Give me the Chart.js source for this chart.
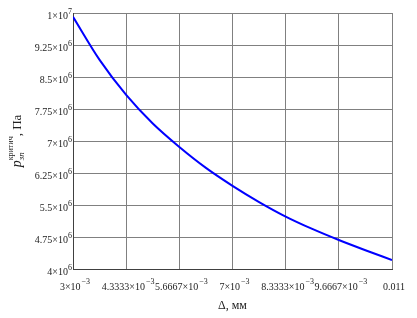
<!DOCTYPE html>
<html lang="ru">
<head>
<meta charset="UTF-8">
<title>p критич</title>
<script src="https://cdn.jsdelivr.net/npm/chart.js"></script>
<style>
  html, body { margin: 0; padding: 0; background: #fff; overflow: hidden; }
  canvas { display: block; }
</style>
</head>
<body>
<canvas id="chart" width="417" height="318"></canvas>
<script>
// зазор, мм
const deltaValues = [0.003, 0.0036667, 0.0043333, 0.005, 0.0056667, 0.0063333, 0.007,
                     0.0076667, 0.0083333, 0.009, 0.0096667, 0.0103333, 0.011];
// давление, Па
const pressureValues = [9.91e6, 8.90e6, 8.08e6, 7.41e6, 6.86e6, 6.37e6, 5.95e6,
                        5.57e6, 5.23e6, 4.94e6, 4.68e6, 4.44e6, 4.21e6];

const xTicks = [0.003, 0.0043333, 0.0056667, 0.007, 0.0083333, 0.0096667, 0.011];
const xTickLabels = [['3', '−3'], ['4.3333', '−3'], ['5.6667', '−3'], ['7', '−3'],
                     ['8.3333', '−3'], ['9.6667', '−3'], ['0.011', '']];
const yTicks = [1e7, 9.25e6, 8.5e6, 7.75e6, 7e6, 6.25e6, 5.5e6, 4.75e6, 4e6];
const yTickLabels = [['1', '7'], ['9.25', '6'], ['8.5', '6'], ['7.75', '6'], ['7', '6'],
                     ['6.25', '6'], ['5.5', '6'], ['4.75', '6'], ['4', '6']];

const FONT = '"Liberation Serif", "DejaVu Serif", serif';
const TXT = '#222';

// подписи в стиле Mathcad: мантисса×10 с показателем степени
const mathLabels = {
    id: 'mathLabels',
    afterDraw(chart) {
        const ctx = chart.ctx;
        const xs = chart.scales.x, ys = chart.scales.y;
        const area = chart.chartArea;
        ctx.save();
        ctx.fillStyle = TXT;
        ctx.textBaseline = 'alphabetic';

        // ось Y
        yTicks.forEach((v, i) => {
            const y = ys.getPixelForValue(v);
            const [m, e] = yTickLabels[i];
            ctx.font = '8px ' + FONT;
            const ew = ctx.measureText(e).width;
            ctx.textAlign = 'left';
            ctx.fillText(e, area.left - ew - 1, y + 1);
            ctx.font = '10px ' + FONT;
            ctx.textAlign = 'right';
            ctx.fillText(m + '×10', area.left - ew - 1, y + 6);
        });

        // ось X
        xTicks.forEach((v, i) => {
            const x = xs.getPixelForValue(v);
            const [m, e] = xTickLabels[i];
            const main = e ? m + '×10' : m;
            ctx.font = '10px ' + FONT;
            const mw = ctx.measureText(main).width;
            ctx.font = '8px ' + FONT;
            const ew = e ? ctx.measureText(e).width + 1 : 0;
            const x0 = x - (mw + ew) / 2 + 2;
            ctx.textAlign = 'left';
            ctx.font = '10px ' + FONT;
            ctx.fillText(main, x0, area.bottom + 21);
            if (e) {
                ctx.font = '8px ' + FONT;
                ctx.fillText(e, x0 + mw + 1, area.bottom + 15);
            }
        });

        // заголовок оси X
        ctx.font = '12px ' + FONT;
        ctx.textAlign = 'center';
        ctx.fillText('Δ, мм', (area.left + area.right) / 2, area.bottom + 40);

        // заголовок оси Y: p_зп^критич, Па
        ctx.translate(21, (area.top + area.bottom) / 2);
        ctx.rotate(-Math.PI / 2);
        const parts = [
            { t: 'p', f: 'italic 14px ' + FONT, dy: 0 },
            { t: 'зп', f: 'italic 9px ' + FONT, dy: 3 },
            { t: 'критич', f: '8px ' + FONT, dy: -8 },
            { t: ', Па', f: '13px ' + FONT, dy: 0 }
        ];
        const widths = parts.map(p => { ctx.font = p.f; return ctx.measureText(p.t).width; });
        const total = widths[0] + Math.max(widths[1], widths[2]) + widths[3];
        let cx = -total / 2;
        ctx.textAlign = 'left';
        ctx.font = parts[0].f; ctx.fillText(parts[0].t, cx, 0); cx += widths[0];
        ctx.font = parts[1].f; ctx.fillText(parts[1].t, cx, parts[1].dy);
        ctx.font = parts[2].f; ctx.fillText(parts[2].t, cx, parts[2].dy);
        cx += Math.max(widths[1], widths[2]);
        ctx.font = parts[3].f; ctx.fillText(parts[3].t, cx, 0);
        ctx.restore();
    }
};

new Chart(document.getElementById('chart'), {
    type: 'line',
    data: {
        datasets: [{
            data: deltaValues.map((d, i) => ({ x: d, y: pressureValues[i] })),
            borderColor: '#0000ff',
            borderWidth: 2,
            pointRadius: 0,
            fill: false,
            cubicInterpolationMode: 'monotone'
        }]
    },
    options: {
        responsive: false,
        animation: false,
        devicePixelRatio: 1,
        layout: { padding: { left: 73, right: 25, top: 13, bottom: 49 } },
        plugins: { legend: { display: false }, tooltip: { enabled: false } },
        scales: {
            x: {
                type: 'linear',
                min: 0.003,
                max: 0.011,
                afterBuildTicks: axis => { axis.ticks = xTicks.map(v => ({ value: v })); },
                ticks: { display: false },
                grid: { color: '#808080', lineWidth: 1, drawTicks: false },
                border: { color: '#404040', width: 1 }
            },
            y: {
                min: 4e6,
                max: 1e7,
                afterBuildTicks: axis => { axis.ticks = yTicks.map(v => ({ value: v })); },
                ticks: { display: false },
                grid: { color: '#808080', lineWidth: 1, drawTicks: false },
                border: { color: '#404040', width: 1 }
            }
        }
    },
    plugins: [mathLabels]
});
</script>
</body>
</html>
